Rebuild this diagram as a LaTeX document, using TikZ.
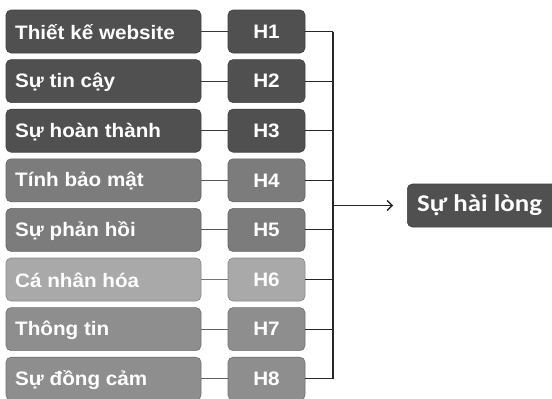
\documentclass[tikz,border=0pt]{standalone}
\usepackage{fontspec}
\usepackage{graphicx}
\setmainfont{Liberation Sans}
\newfontfamily\calib{Carlito}
\usetikzlibrary{arrows.meta}
\definecolor{cdark}{HTML}{505050}
\definecolor{cmid}{HTML}{7C7C7C}
\definecolor{clight}{HTML}{A9A9A9}
\definecolor{cmed}{HTML}{8E8E8E}
\newcommand{\wtxt}[1]{\scalebox{1.06}[1]{#1}}
\tikzset{
  box/.style={rounded corners=5pt, draw=#1!80!black, line width=0.6pt, fill=#1, text=white, font=\fontsize{19.5}{22}\selectfont\bfseries, inner sep=0pt},
  lbox/.style={box=#1, minimum width=195pt, minimum height=43pt},
  hbox/.style={box=#1, minimum width=77pt, minimum height=43pt},
  lbl/.style={anchor=west, text=white, font=\fontsize{19.5}{22}\selectfont\bfseries, inner sep=0pt},
  conn/.style={line width=1.1pt, draw=#1!70!black},
  bus/.style={line width=1.1pt, draw=black!85},
}
\begin{document}
\begin{tikzpicture}[x=1pt,y=-1pt]
\useasboundingbox (0,0) rectangle (552,399);
\fill[white] (0,0) rectangle (552,399);
\foreach \i/\t/\c in {1/Thiết kế website/cdark,2/Sự tin cậy/cdark,3/Sự hoàn thành/cdark,4/Tính bảo mật/cmid,5/Sự phản hồi/cmid,6/Cá nhân hóa/clight,7/Thông tin/cmed,8/Sự đồng cảm/cmed}{
  \pgfmathsetmacro{\yy}{31.5+49.6*(\i-1)}
  \node[lbox=\c] (L\i) at (103.5,\yy) {};
  \node[lbl] (T\i) at (15,\yy+1) {\wtxt{\t}};
  \node[hbox=\c] (H\i) at (266.5,\yy) {\wtxt{H\i}};
  \draw[conn=\c] (L\i.east) -- (H\i.west);
  \coordinate (B\i) at (333,\yy);
  \draw[bus] (H\i.east) -- (B\i);
}
\draw[bus] (B1) -- (B8);
\node[rounded corners=5pt, draw=cdark!80!black, line width=0.6pt, fill=cdark, minimum height=43pt, minimum width=150pt, inner sep=0pt, anchor=west] (S) at (407,205.5) {};
\node[anchor=west, inner sep=0pt, text=white, font=\calib\fontsize{24}{28}\selectfont\bfseries] (ST) at (417,205) {\scalebox{1.12}[1]{Sự hài lòng}};
\coordinate (A0) at (333,205.5);
\draw[bus, -{Straight Barb[length=5pt,width=10pt,line width=1.4pt]}] (A0) -- (S.west -| 393,0);
\end{tikzpicture}
\end{document}
